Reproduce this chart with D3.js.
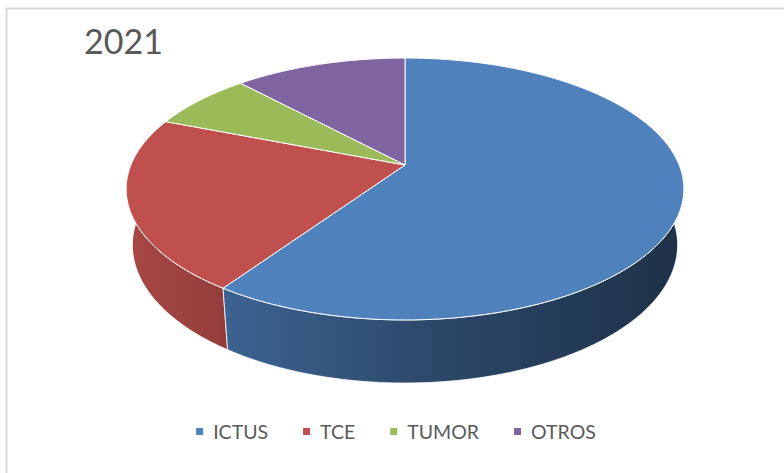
<!DOCTYPE html>
<html>
<head>
<meta charset="utf-8">
<script src="https://cdn.jsdelivr.net/npm/d3@7"></script>
<style>
  body { margin: 0; background: #fff; }
  svg { display: block; }
</style>
</head>
<body>
<svg id="chart" width="784" height="473"></svg>
<script>
var categories = ["ICTUS", "TCE", "TUMOR", "OTROS"];
var values = [50, 18, 6, 10];
var colors = ["#4F81BD", "#C0504D", "#9BBB59", "#8064A2"];
var title = "2021";

var svg = d3.select("#chart");

// chart frame
svg.append("rect")
  .attr("x", 6.5).attr("y", 8.5)
  .attr("width", 800).attr("height", 500)
  .attr("fill", "#fff")
  .attr("stroke", "#d9d9d9")
  .attr("stroke-width", 2);

svg.append("text")
  .attr("x", 84).attr("y", 54)
  .attr("font-family", "Lato, 'Open Sans', sans-serif")
  .attr("font-size", 34)
  .attr("fill", "#595959")
  .text(title);

// perspective camera for the tilted pie
var cx = 405, cy = 165, focal = 1327, dist = 4.841;
var sinA = 0.4617, cosA = 0.887, depth = 0.2317;

function proj(u, v, w) {
  var Y = v * sinA - w * cosA;
  var Z = dist - v * cosA - w * sinA;
  return [cx + focal * u / Z, cy + focal * Y / Z];
}

function rim(a0, a1, w) {
  var n = Math.max(2, Math.ceil((a1 - a0) / 0.02));
  return d3.range(n + 1).map(function(i) {
    var a = a0 + (a1 - a0) * i / n;
    return proj(Math.sin(a), -Math.cos(a), w);
  });
}

var pie = d3.pie().sort(null).value(function(d) { return d; });
var arcs = pie(values);

var line = d3.line().curve(d3.curveLinear);

// side gradients, darker toward the right
var defs = svg.append("defs");
var shade = [[0, 0.35], [0.17, 0.73], [0.6, 1.75], [1, 2.7]];
colors.forEach(function(c, i) {
  var g = defs.append("linearGradient")
    .attr("id", "side" + i)
    .attr("gradientUnits", "userSpaceOnUse")
    .attr("x1", 126).attr("x2", 684).attr("y1", 0).attr("y2", 0);
  shade.forEach(function(s) {
    g.append("stop")
      .attr("offset", s[0])
      .attr("stop-color", d3.color(c).darker(s[1]).formatHex());
  });
});

// walls, back to front
var order = arcs.map(function(d, i) { return i; })
  .sort(function(a, b) {
    var ma = (arcs[a].startAngle + arcs[a].endAngle) / 2;
    var mb = (arcs[b].startAngle + arcs[b].endAngle) / 2;
    return -Math.cos(ma) - -Math.cos(mb);
  });

svg.append("g").selectAll("path")
  .data(order)
  .enter().append("path")
  .attr("d", function(i) {
    var d = arcs[i];
    var top = rim(d.startAngle, d.endAngle, 0);
    var bot = rim(d.startAngle, d.endAngle, -depth).reverse();
    return line(top.concat(bot)) + "Z";
  })
  .attr("fill", function(i) { return "url(#side" + i + ")"; })
  .attr("stroke", "#fff")
  .attr("stroke-width", 0.8)
  .attr("stroke-linejoin", "round");

// top faces
svg.append("g").selectAll("path")
  .data(arcs)
  .enter().append("path")
  .attr("d", function(d) {
    var pts = [proj(0, 0, 0)].concat(rim(d.startAngle, d.endAngle, 0));
    return line(pts) + "Z";
  })
  .attr("fill", function(d, i) { return colors[i]; })
  .attr("stroke", "#fff")
  .attr("stroke-width", 1)
  .attr("stroke-linejoin", "round");

// legend
var legend = svg.append("g")
  .attr("font-family", "Lato, 'Open Sans', sans-serif")
  .attr("font-size", 19.5)
  .attr("fill", "#595959");

var items = legend.selectAll("g")
  .data(categories)
  .enter().append("g");

items.append("rect")
  .attr("width", 7).attr("height", 7)
  .attr("y", 428)
  .attr("fill", function(d, i) { return colors[i]; });

items.append("text")
  .attr("y", 439)
  .text(function(d) { return d; });

var widths = [];
items.select("text").each(function() { widths.push(this.getComputedTextLength()); });
var total = d3.sum(widths) + categories.length * 17 + (categories.length - 1) * 35;
var xpos = 396 - total / 2;
items.each(function(d, i) {
  var g = d3.select(this);
  g.select("rect").attr("x", xpos);
  g.select("text").attr("x", xpos + 17);
  xpos += 17 + widths[i] + 35;
});
</script>
</body>
</html>
